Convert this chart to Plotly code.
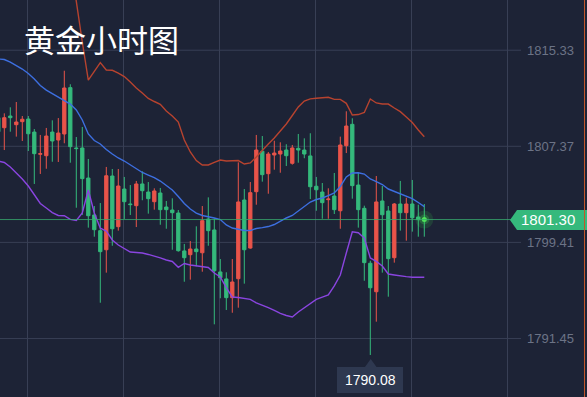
import plotly.graph_objects as go

# ---------------- data ----------------
opens = [1809.74, 1808.91, 1809.88, 1809.16, 1809.41, 1809.63, 1808.55, 1806.71, 1806.59, 1808.55,
         1807.89, 1808.39, 1812.23, 1807.23, 1807.23, 1804.74, 1801.68, 1800.38, 1798.80, 1804.91,
         1800.71, 1803.83, 1802.59, 1802.45, 1804.25, 1803.58, 1802.78, 1803.50, 1802.34, 1802.09,
         1801.84, 1798.70, 1798.39, 1798.86, 1798.55, 1801.35, 1800.44, 1796.96, 1796.38, 1794.83,
         1796.40, 1802.92, 1798.94, 1803.61, 1806.96, 1805.10, 1806.65, 1806.73, 1807.06, 1805.96,
         1807.20, 1807.06, 1806.57, 1804.06, 1803.58, 1802.95, 1803.25, 1802.03, 1807.42, 1809.19,
         1804.16, 1802.23, 1797.68, 1795.32, 1802.84, 1802.01, 1798.14, 1802.59, 1801.87, 1802.59,
         1801.51, 1801.38]
highs = [1810.00, 1810.10, 1810.60, 1811.04, 1809.88, 1809.88, 1808.80, 1808.31, 1808.89, 1809.52,
         1809.71, 1813.63, 1812.51, 1808.14, 1808.97, 1806.32, 1802.42, 1802.67, 1805.66, 1805.49,
         1805.49, 1804.83, 1804.16, 1804.50, 1805.30, 1804.41, 1803.89, 1803.92, 1802.84, 1803.06,
         1802.09, 1799.28, 1799.52, 1800.74, 1802.42, 1803.14, 1801.40, 1798.03, 1796.93, 1798.03,
         1806.04, 1803.83, 1804.41, 1808.31, 1808.22, 1806.90, 1807.83, 1807.70, 1807.54, 1807.48,
         1808.39, 1808.03, 1808.45, 1804.83, 1804.33, 1803.89, 1805.16, 1808.17, 1810.27, 1809.69,
         1805.22, 1802.45, 1797.89, 1804.91, 1804.08, 1802.42, 1802.67, 1804.50, 1803.11, 1804.58,
         1802.53, 1802.59]
lows = [1808.30, 1807.06, 1808.58, 1808.17, 1807.81, 1806.98, 1804.25, 1805.08, 1805.51, 1806.09,
        1806.07, 1807.62, 1806.01, 1802.28, 1801.68, 1800.63, 1799.88, 1794.41, 1796.90, 1799.13,
        1800.38, 1801.35, 1801.68, 1800.68, 1802.90, 1801.79, 1802.12, 1800.87, 1800.54, 1798.80,
        1798.64, 1796.15, 1796.32, 1797.43, 1796.98, 1799.13, 1792.62, 1794.78, 1793.81, 1793.58,
        1794.00, 1795.99, 1798.89, 1802.53, 1804.44, 1803.44, 1805.43, 1805.18, 1805.74, 1805.85,
        1806.01, 1806.38, 1803.00, 1802.03, 1801.37, 1801.37, 1801.76, 1800.54, 1806.81, 1803.03,
        1800.63, 1796.23, 1790.08, 1792.84, 1796.90, 1794.91, 1797.73, 1800.38, 1799.55, 1800.30,
        1799.88, 1799.88]
closes = [1808.58, 1809.74, 1809.74, 1809.38, 1809.61, 1808.41, 1806.76, 1806.76, 1808.22, 1807.81,
          1808.47, 1812.20, 1807.34, 1807.18, 1804.69, 1801.62, 1800.46, 1798.64, 1804.93, 1800.54,
          1804.08, 1802.78, 1802.54, 1804.25, 1803.69, 1803.03, 1803.67, 1802.12, 1802.12, 1801.87,
          1798.72, 1798.14, 1798.86, 1798.64, 1801.21, 1800.38, 1797.06, 1796.48, 1794.83, 1796.13,
          1802.76, 1798.80, 1803.53, 1807.06, 1805.02, 1806.73, 1806.81, 1806.98, 1806.59, 1807.23,
          1807.06, 1806.73, 1804.02, 1803.77, 1802.70, 1803.00, 1802.12, 1807.48, 1809.05, 1804.11,
          1802.12, 1797.73, 1795.65, 1802.76, 1801.70, 1798.06, 1802.59, 1801.87, 1802.59, 1801.45,
          1801.29, 1801.30]

boll_upper = [None] * 11 + [
    1826.12, 1822.64, 1819.32, 1816.01, 1812.86, 1813.61, 1814.30, 1813.69, 1813.67, 1813.44,
    1813.15, 1812.70, 1812.20, 1811.79, 1811.33, 1811.08, 1810.85, 1810.29, 1809.88, 1809.38,
    1807.89, 1806.90, 1806.19, 1805.82, 1805.82, 1806.03, 1806.23, 1806.15, 1806.19, 1806.19,
    1805.90, 1805.99, 1806.49, 1807.06, 1807.56, 1808.06, 1808.64, 1809.22, 1809.92, 1810.63,
    1811.12, 1811.30, 1811.35, 1811.40, 1811.43, 1811.26, 1811.26, 1810.93, 1809.96, 1810.00,
    1810.17, 1811.29, 1810.96, 1810.87, 1810.87, 1810.54, 1810.24, 1809.80, 1809.34, 1808.72,
    1808.16]
boll_mid = [1814.60, 1814.56, 1814.35, 1814.06, 1813.77, 1813.40, 1812.95, 1812.41, 1812.03, 1811.74,
            1811.45, 1811.21, 1810.87, 1810.38, 1809.55, 1808.39, 1807.85, 1807.56, 1807.10, 1806.73,
            1806.40, 1806.15, 1805.82, 1805.49, 1805.20, 1804.99, 1804.78, 1804.49, 1804.12, 1803.75,
            1803.21, 1802.63, 1802.17, 1801.84, 1801.64, 1801.55, 1801.43, 1801.30, 1800.85, 1800.60,
            1800.48, 1800.39, 1800.39, 1800.56, 1800.63, 1800.72, 1800.89, 1801.18, 1801.43, 1801.64,
            1802.01, 1802.42, 1802.75, 1802.96, 1803.09, 1803.29, 1803.50, 1804.04, 1804.83, 1805.16,
            1805.18, 1805.07, 1804.66, 1804.45, 1804.20, 1803.83, 1803.64, 1803.47, 1803.27, 1803.04,
            1802.71, 1802.37]
boll_lower = [1806.15, 1806.03, 1805.65, 1805.16, 1804.66, 1804.08, 1803.38, 1802.63, 1802.26, 1801.88,
              1801.64, 1801.62, 1801.32, 1801.22, 1801.84, 1803.75, 1801.84, 1800.58, 1800.35, 1799.61,
              1799.19, 1798.90, 1798.61, 1798.57, 1798.53, 1798.41, 1798.28, 1798.12, 1797.95, 1797.83,
              1797.34, 1797.66, 1797.54, 1797.48, 1797.45, 1797.33, 1796.87, 1796.54, 1795.67, 1794.88,
              1794.84, 1794.78, 1794.69, 1794.39, 1794.22, 1794.01, 1793.77, 1793.52, 1793.35, 1793.23,
              1793.64, 1794.01, 1794.35, 1794.68, 1794.88, 1795.05, 1795.80, 1796.71, 1798.53, 1800.29,
              1800.21, 1799.77, 1798.12, 1797.83, 1797.45, 1796.79, 1796.71, 1796.62, 1796.57, 1796.52,
              1796.52, 1796.52]

tick_vals = [1791.45, 1799.41, 1807.37, 1815.33]
tick_text = ["1791.45", "1799.41", "1807.37", "1815.33"]
last_price = 1801.30
low_price = 1790.08
title_text = "黄金小时图"

# ---------------- figure ----------------
W, H = 587, 397
BG = "#1d2336"
RED = "#e9544a"
GREEN = "#35b97c"
GRID = "#383f55"

x = list(range(len(opens)))
last_idx = len(closes) - 1

fig = go.Figure()

fig.add_trace(go.Scatter(x=x, y=boll_upper, mode="lines",
                         line=dict(color="#b7432f", width=1.4), hoverinfo="skip"))
fig.add_trace(go.Scatter(x=x, y=boll_mid, mode="lines",
                         line=dict(color="#3d6fe0", width=1.4), hoverinfo="skip"))
fig.add_trace(go.Scatter(x=x, y=boll_lower, mode="lines",
                         line=dict(color="#8a45e0", width=1.4), hoverinfo="skip"))

fig.add_trace(go.Candlestick(
    x=x, open=opens, high=highs, low=lows, close=closes,
    increasing=dict(line=dict(color=RED, width=1), fillcolor=RED),
    decreasing=dict(line=dict(color=GREEN, width=1), fillcolor=GREEN),
    whiskerwidth=0,
))

# glow on the last price
fig.add_trace(go.Scatter(x=[x[last_idx]], y=[closes[last_idx]], mode="markers",
                         marker=dict(size=18, color="rgba(60,220,80,0.15)"), hoverinfo="skip"))
fig.add_trace(go.Scatter(x=[x[last_idx]], y=[closes[last_idx]], mode="markers",
                         marker=dict(size=10, color="rgba(60,220,80,0.25)"), hoverinfo="skip"))
fig.add_trace(go.Scatter(x=[x[last_idx]], y=[closes[last_idx]], mode="markers",
                         marker=dict(size=5, color="rgba(80,230,90,0.95)"), hoverinfo="skip"))

shapes = []
# horizontal grid lines (stop before the labels)
for v in tick_vals:
    shapes.append(dict(type="line", xref="paper", yref="y", x0=0, x1=521 / W, y0=v, y1=v,
                       line=dict(color=GRID, width=1), layer="below"))
# current price line
shapes.append(dict(type="line", xref="paper", yref="y", x0=0, x1=511 / W, y0=last_price, y1=last_price,
                   line=dict(color="rgba(55,170,110,0.8)", width=1)))
# price tag (arrow box)
ty = 1 - 220 / H
th = 10 / H
shapes.append(dict(type="path", xref="paper", yref="paper",
                   path=f"M {510/W} {ty} L {517/W} {ty+th} L {587/W} {ty+th} L {587/W} {ty-th} L {517/W} {ty-th} Z",
                   fillcolor="#35b97c", line=dict(width=0)))
# right edge accent
shapes.append(dict(type="line", xref="paper", yref="paper", x0=584.5 / W, x1=584.5 / W, y0=0, y1=1,
                   line=dict(color="#c2562a", width=1)))
# low tooltip box + pointer
shapes.append(dict(type="path", xref="paper", yref="paper",
                   path=(f"M {337/W} {1-367/H} L {365/W} {1-367/H} L {370.7/W} {1-359/H} L {376.5/W} {1-367/H} "
                         f"L {403/W} {1-367/H} L {403/W} {1-393/H} L {337/W} {1-393/H} Z"),
                   fillcolor="#2e3850", line=dict(width=0)))

annotations = [
    dict(text=title_text, xref="paper", yref="paper", x=22 / W, y=1 - 38 / H, xanchor="left", yanchor="middle",
         showarrow=False, font=dict(family="Noto Sans CJK SC", size=31, color="#ffffff")),
    dict(text=f"{last_price:.2f}", xref="paper", yref="y", x=548 / W, y=last_price, xanchor="center",
         yanchor="middle", showarrow=False, font=dict(family="Liberation Sans, Arial", size=15, color="#ffffff")),
    dict(text=f"{low_price:.2f}", xref="paper", yref="paper", x=370 / W, y=1 - 380 / H, xanchor="center",
         yanchor="middle", showarrow=False, font=dict(family="Liberation Sans, Arial", size=14, color="#ffffff")),
]
for v, t in zip(tick_vals, tick_text):
    annotations.append(dict(text=t, xref="paper", yref="y", x=576 / W, y=v, xanchor="right", yanchor="middle",
                            showarrow=False, font=dict(family="Liberation Sans, Arial", size=13, color="#6c7386")))

fig.update_layout(
    width=W, height=H,
    margin=dict(l=0, r=0, t=0, b=0),
    paper_bgcolor=BG, plot_bgcolor=BG,
    showlegend=False,
    boxgap=0.22,
    shapes=shapes,
    annotations=annotations,
    xaxis=dict(range=[0.2833, 98.117], rangeslider=dict(visible=False),
               showgrid=True, gridcolor=GRID, gridwidth=1, tick0=4.783, dtick=16,
               showticklabels=False, zeroline=False, showline=False, ticks=""),
    yaxis=dict(range=[1786.60, 1819.49], showgrid=False, showticklabels=False,
               zeroline=False, showline=False, ticks=""),
)

fig.write_html("out.html", config={"displayModeBar": False},
               post_script="document.body.style.margin='0';document.body.style.background='#1d2336';")
